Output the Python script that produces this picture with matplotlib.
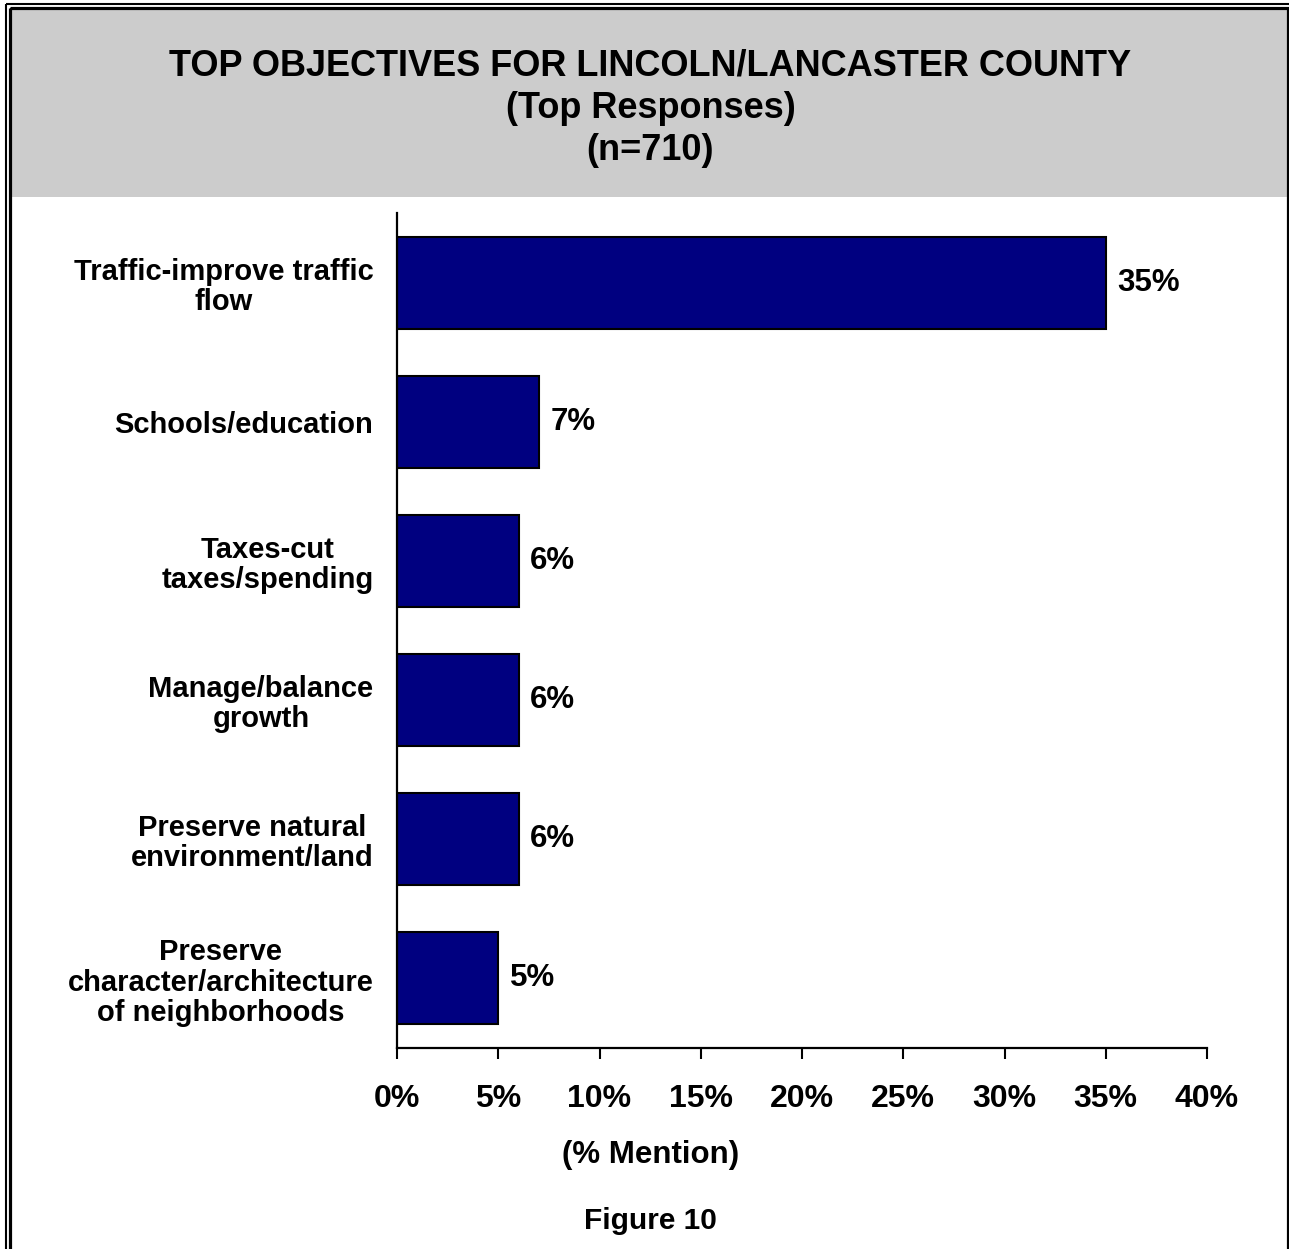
import matplotlib
matplotlib.use("Agg")
import matplotlib.pyplot as plt
from matplotlib.patches import Rectangle

plt.rcParams['font.family'] = ['Liberation Sans', 'DejaVu Sans']
plt.rcParams['font.weight'] = 'bold'

title_lines = ["TOP OBJECTIVES FOR LINCOLN/LANCASTER COUNTY",
               "(Top Responses)",
               "(n=710)"]
categories = ["Traffic-improve traffic\nflow",
              "Schools/education",
              "Taxes-cut\ntaxes/spending",
              "Manage/balance\ngrowth",
              "Preserve natural\nenvironment/land",
              "Preserve\ncharacter/architecture\nof neighborhoods"]
values = [35, 7, 6, 6, 6, 5]
xticks = [0, 5, 10, 15, 20, 25, 30, 35, 40]
xlabel = "(% Mention)"
caption = "Figure 10"

W, H = 1289, 1249
fig = plt.figure(figsize=(W / 100, H / 100), dpi=100)

# background frame: pixel coordinates, y downwards
bg = fig.add_axes([0, 0, 1, 1], zorder=-1)
bg.set_xlim(0, W)
bg.set_ylim(H, 0)
bg.axis('off')
bg.add_patch(Rectangle((11, 9), 1276, 188, facecolor='#cccccc', edgecolor='none'))
bg.add_patch(Rectangle((5.5, 4), 1300, 1300, facecolor='none', edgecolor='black', lw=1.5))
bg.add_patch(Rectangle((10, 8), 1277.5, 1300, facecolor='none', edgecolor='black', lw=2.3))

for i, line in enumerate(title_lines):
    fig.text(0.5046, 1 - (66 + 42 * i) / H, line, ha='center', va='center',
             fontsize=26, fontweight='bold')

ax = fig.add_axes([397 / W, (H - 1048) / H, (1207 - 397) / W, (1048 - 213) / H])
y = list(range(len(categories)))
ax.barh(y, values, height=0.66, color='#000080', edgecolor='black', linewidth=1.5)
ax.set_ylim(len(categories) - 0.5, -0.5)
ax.set_xlim(0, 40)

for yi, v in zip(y, values):
    ax.annotate(f"{v}%", (v, yi), xytext=(8.5, 0), textcoords='offset points',
                ha='left', va='center', fontsize=22.5, fontweight='bold')

ax.set_xticks(xticks)
ax.set_xticklabels([f"{t}%" for t in xticks], fontsize=23, fontweight='bold')
ax.tick_params(axis='x', length=8, width=1.5, pad=18)
ax.set_yticks(y)
ax.set_yticklabels(categories, fontsize=21, fontweight='bold',
                   multialignment='center', linespacing=1.1)
ax.tick_params(axis='y', length=0, pad=17)

for s in ['top', 'right']:
    ax.spines[s].set_visible(False)
for s in ['left', 'bottom']:
    ax.spines[s].set_linewidth(1.6)

fig.text(0.5046, 1 - 1155 / H, xlabel, ha='center', va='center',
         fontsize=22.5, fontweight='bold')
fig.text(0.5046, 1 - 1221 / H, caption, ha='center', va='center',
         fontsize=21.5, fontweight='bold')

fig.savefig("out.png", dpi=100)
